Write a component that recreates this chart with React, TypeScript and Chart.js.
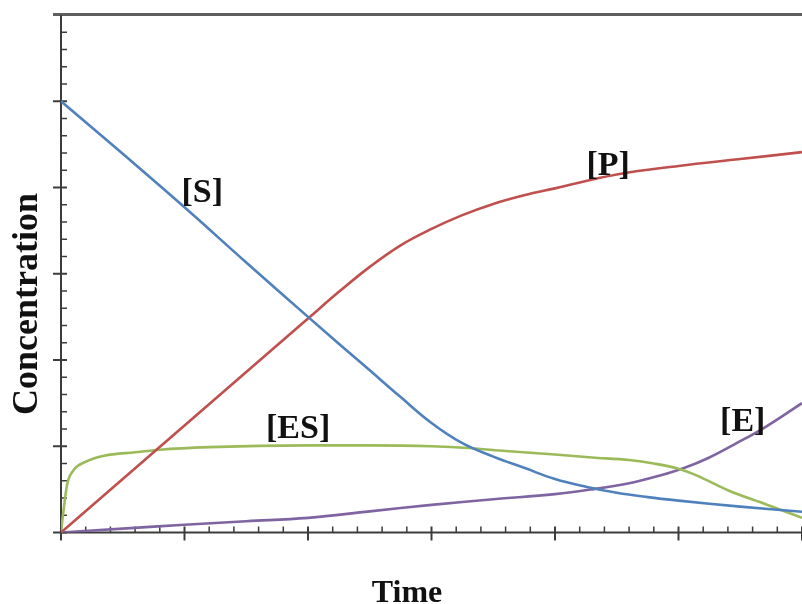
import React, { useEffect, useRef } from "react";
import { Chart, registerables } from "chart.js";

Chart.register(...registerables);

// ---- data (time in arbitrary units 0..6, concentration 0..6) ----
const sTimes = [0, 0.5, 1, 1.5, 2, 2.5, 2.75, 3, 3.25, 3.5, 3.75, 4, 4.25, 4.5, 4.75, 5, 5.5, 6];
const sValues = [5, 4.39, 3.77, 3.13, 2.5, 1.88, 1.57, 1.27, 1.035, 0.88, 0.75, 0.62, 0.53, 0.46, 0.41, 0.37, 0.3, 0.24];

const pTimes = [0, 0.5, 1, 1.5, 2, 2.25, 2.5, 2.75, 3, 3.25, 3.5, 3.75, 4, 4.5, 5, 5.5, 6];
const pValues = [0, 0.62, 1.24, 1.86, 2.48, 2.79, 3.08, 3.33, 3.52, 3.68, 3.81, 3.91, 3.99, 4.15, 4.25, 4.33, 4.41];

const esTimes = [0, 0.02, 0.05, 0.1, 0.2, 0.35, 0.6, 0.8, 1.2, 2, 2.5, 3, 3.3, 3.6, 4, 4.3, 4.6, 4.8, 5, 5.15, 5.4, 5.7, 6];
const esValues = [0, 0.25, 0.56, 0.72, 0.82, 0.89, 0.93, 0.96, 0.99, 1.01, 1.01, 1.0, 0.98, 0.945, 0.905, 0.87, 0.84, 0.8, 0.74, 0.66, 0.49, 0.33, 0.17];

const eTimes = [0, 0.5, 1, 1.5, 2, 2.5, 3, 3.5, 4, 4.3, 4.6, 4.85, 5.05, 5.25, 5.45, 5.7, 6];
const eValues = [0, 0.045, 0.09, 0.13, 0.17, 0.245, 0.32, 0.385, 0.445, 0.5, 0.57, 0.66, 0.75, 0.87, 1.02, 1.22, 1.5];

const seriesNames = ["[S]", "[P]", "[ES]", "[E]"];
// label anchor (data units): centre x, baseline y
const labelX = [1.144, 4.43, 1.92, 5.52];
const labelY = [3.83, 4.15, 1.1, 1.18];

const X_MIN = 0;
const X_MAX = 6;
const Y_MIN = 0;
const Y_MAX = 6;
const MAJOR_STEP = 1;
const MINOR_PER_MAJOR = 5;

const xTitle = "Time";
const yTitle = "Concentration";

const colors = ["#4F81BD", "#C0504D", "#9BBB59", "#8064A2"];

function pts(xs: number[], ys: number[]) {
  return xs.map((x, i) => ({ x, y: ys[i] }));
}

const decorPlugin = {
  id: "decor",
  beforeDatasetsDraw(chart: any) {
    const { ctx, chartArea, scales } = chart;
    const xs = scales.x;
    const ys = scales.y;
    const x0 = xs.getPixelForValue(X_MIN);
    const y0 = ys.getPixelForValue(Y_MIN);
    const yTop = ys.getPixelForValue(Y_MAX);
    ctx.save();
    // top frame line
    ctx.strokeStyle = "#5e5e5e";
    ctx.lineWidth = 3;
    ctx.beginPath();
    ctx.moveTo(x0 - 8, yTop - 0.5);
    ctx.lineTo(chartArea.right + 2, yTop - 0.5);
    ctx.stroke();
    // axes lines
    ctx.strokeStyle = "#3c3c3c";
    ctx.lineWidth = 2;
    ctx.beginPath();
    ctx.moveTo(x0, yTop);
    ctx.lineTo(x0, y0 + 1);
    ctx.moveTo(x0 - 1, y0);
    ctx.lineTo(chartArea.right + 2, y0);
    ctx.stroke();
    // ticks
    const n = Math.round(((X_MAX - X_MIN) / MAJOR_STEP) * MINOR_PER_MAJOR);
    for (let i = 0; i <= n; i++) {
      const v = X_MIN + (i * MAJOR_STEP) / MINOR_PER_MAJOR;
      const px = xs.getPixelForValue(v);
      const major = i % MINOR_PER_MAJOR === 0;
      ctx.lineWidth = major ? 2 : 1.5;
      ctx.beginPath();
      if (major) {
        ctx.moveTo(px, y0 - 6);
        ctx.lineTo(px, y0 + 8);
      } else {
        ctx.moveTo(px, y0 - 6);
        ctx.lineTo(px, y0);
      }
      ctx.stroke();
    }
    const m = Math.round(((Y_MAX - Y_MIN) / MAJOR_STEP) * MINOR_PER_MAJOR);
    for (let i = 0; i < m; i++) {
      const v = Y_MIN + (i * MAJOR_STEP) / MINOR_PER_MAJOR;
      const py = ys.getPixelForValue(v);
      const major = i % MINOR_PER_MAJOR === 0;
      ctx.lineWidth = major ? 2 : 1.5;
      ctx.beginPath();
      if (major) {
        ctx.moveTo(x0 - 8, py);
        ctx.lineTo(x0 + 6, py);
      } else {
        ctx.moveTo(x0, py);
        ctx.lineTo(x0 + 6, py);
      }
      ctx.stroke();
    }
    ctx.restore();
  },
  afterDraw(chart: any) {
    const { ctx, chartArea, scales } = chart;
    const xs = scales.x;
    const ys = scales.y;
    ctx.save();
    ctx.fillStyle = "#111111";
    ctx.textAlign = "center";
    ctx.textBaseline = "alphabetic";
    ctx.font = "bold 34px 'Liberation Serif', 'Times New Roman', serif";
    seriesNames.forEach((name, i) => {
      ctx.fillText(name, xs.getPixelForValue(labelX[i]), ys.getPixelForValue(labelY[i]));
    });
    // axis titles
    ctx.font = "bold 32px 'Liberation Serif', 'Times New Roman', serif";
    ctx.fillText(xTitle, chartArea.left + 346, chartArea.bottom + 69);
    ctx.save();
    ctx.translate(chartArea.left - 24, chartArea.top + 289);
    ctx.rotate(-Math.PI / 2);
    ctx.font = "bold 36px 'Liberation Serif', 'Times New Roman', serif";
    ctx.fillText(yTitle, 0, 0);
    ctx.restore();
    ctx.restore();
  },
};

export default function App() {
  const ref = useRef<HTMLCanvasElement | null>(null);
  useEffect(() => {
    if (!ref.current) return;
    const mk = (label: string, xs: number[], ys: number[], color: string, monotone: boolean) => ({
      label,
      data: pts(xs, ys),
      borderColor: color,
      backgroundColor: color,
      borderWidth: 2.6,
      pointRadius: 0,
      fill: false,
      tension: 0.4,
      cubicInterpolationMode: monotone ? ("monotone" as const) : ("default" as const),
    });
    const chart = new Chart(ref.current, {
      type: "line",
      data: {
        datasets: [
          mk(seriesNames[0], sTimes, sValues, colors[0], false),
          mk(seriesNames[1], pTimes, pValues, colors[1], false),
          mk(seriesNames[2], esTimes, esValues, colors[2], true),
          mk(seriesNames[3], eTimes, eValues, colors[3], false),
        ],
      },
      options: {
        animation: false,
        responsive: false,
        events: [],
        layout: { padding: { left: 61, top: 15, right: 0, bottom: 71.5 } },
        plugins: { legend: { display: false }, tooltip: { enabled: false } },
        scales: {
          x: { type: "linear", min: X_MIN, max: X_MAX, display: false },
          y: { type: "linear", min: Y_MIN, max: Y_MAX, display: false },
        },
      },
      plugins: [decorPlugin],
    });
    return () => chart.destroy();
  }, []);
  return (
    <div style={{ position: "absolute", left: 0, top: 0, width: 802, height: 604, background: "#fff" }}>
      <canvas ref={ref} width={802} height={604} style={{ display: "block" }} />
    </div>
  );
}
